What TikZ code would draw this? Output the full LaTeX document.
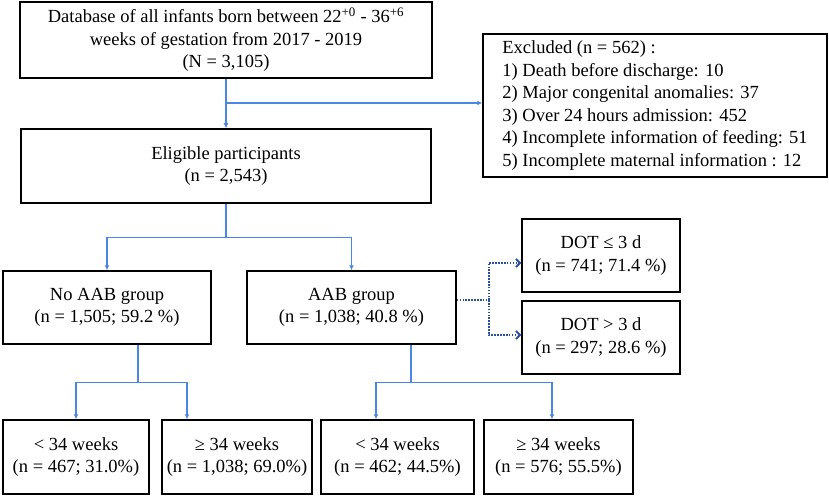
\documentclass[tikz,border=0pt]{standalone}
\usepackage{fontspec}
\setmainfont{Liberation Serif}
\usetikzlibrary{arrows.meta}
\definecolor{lineblue}{HTML}{4A86E8}
\definecolor{dotblue}{HTML}{2A4FA0}
\begin{document}
\begin{tikzpicture}[x=1pt, y=-1pt,
    box/.style = {draw, line width=1.5pt, align=center, inner sep=0pt,
                  font=\fontsize{18.5}{22.5}\selectfont},
    link/.style = {draw=lineblue, line width=1.1pt},
    arr/.style = {link, -{Latex[length=5pt,width=5pt]}},
    dots/.style = {draw=dotblue, line width=1.8pt, dash pattern=on 1.6pt off 1.3pt},
    dotarr/.style = {dots, -{Straight Barb[length=4pt,width=8pt]}}]
    \useasboundingbox (0,0) rectangle (829,497);
    \node[box, minimum width=412, minimum height=76] (db) at (226,40)
        {Database of all infants born between 22\textsuperscript{+0} - 36\textsuperscript{+6}\\
         weeks of gestation from 2017 - 2019\\ (N = 3,105)};
    \node[box, minimum width=344, minimum height=143, align=left] (excl) at (655,105.5)
        {Excluded (n = 562) :\\ 1) Death before discharge: 10\\ 2) Major congenital anomalies: 37\\
         3) Over 24 hours admission: 452\\ 4) Incomplete information of feeding: 51\\
         5) Incomplete maternal information : 12};
    \node[box, minimum width=410, minimum height=74] (elig) at (226,166)
        {Eligible participants\\ (n = 2,543)};
    \node[box, minimum width=208, minimum height=73] (noaab) at (107,307.5)
        {No AAB group\\ (n = 1,505; 59.2 \%)};
    \node[box, minimum width=209, minimum height=73] (aab) at (351.5,307.5)
        {AAB group\\ (n = 1,038; 40.8 \%)};
    \node[box, minimum width=158, minimum height=73] (dotle) at (601,255.5)
        {DOT ≤ 3 d\\ (n = 741; 71.4 \%)};
    \node[box, minimum width=158, minimum height=73] (dotgt) at (601,337.5)
        {DOT > 3 d\\ (n = 297; 28.6 \%)};
    \node[box, minimum width=146, minimum height=74] (nolt) at (76,457)
        {< 34 weeks\\ (n = 467; 31.0\%)};
    \node[box, minimum width=150, minimum height=74] (noge) at (237,457)
        {≥ 34 weeks\\ (n = 1,038; 69.0\%)};
    \node[box, minimum width=153, minimum height=74] (aablt) at (397.5,457)
        {< 34 weeks\\ (n = 462; 44.5\%)};
    \node[box, minimum width=149, minimum height=74] (aabge) at (558.5,457)
        {≥ 34 weeks\\ (n = 576; 55.5\%)};

    % exclusion
    \draw[arr] (db) -- (elig);
    \coordinate (j0) at (226,103);
    \draw[arr] (j0) -- (j0 -| excl.west);

    % antibiotic groups
    \draw[link] (elig.south) -- ++(0,34) coordinate (j1);
    \draw[arr] (j1) -| (noaab.north);
    \draw[arr] (j1) -| (aab.north);

    % duration of therapy
    \draw[dots] ([yshift=7.5]aab.east) -- ++(32,0) coordinate (j2);
    \draw[dotarr] (j2) |- ([yshift=-7.5]dotle.west);
    \draw[dotarr] (j2) |- ([yshift=2.5]dotgt.west);

    % gestational age
    \draw[link] ([xshift=31]noaab.south) -- ++(0,38) coordinate (j3);
    \draw[arr] (j3) -| (nolt.north);
    \draw[arr] (j3) -| ([xshift=-50]noge.north);
    \draw[link] ([xshift=59.5]aab.south) -- ++(0,38) coordinate (j4);
    \draw[arr] (j4) -| ([xshift=-21.5]aablt.north);
    \draw[arr] (j4) -| ([xshift=-6.5]aabge.north);
\end{tikzpicture}
\end{document}
